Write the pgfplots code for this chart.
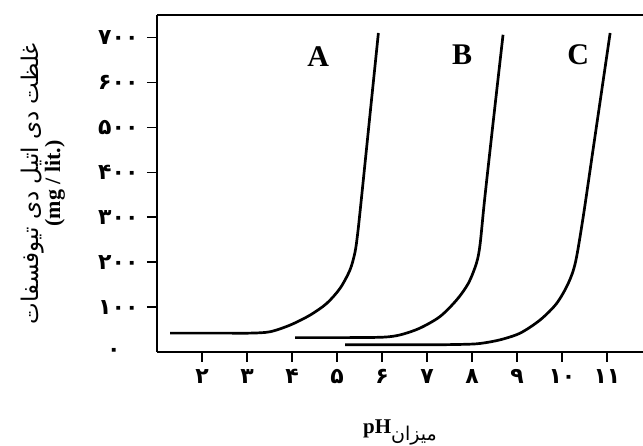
\documentclass[border=0pt]{standalone}
\usepackage{fontspec}
\setmainfont{Liberation Serif}
\newfontfamily\arabicfont[Script=Arabic]{DejaVu Sans}
\TeXXeTstate=1
\usepackage{pgfplots}
\pgfplotsset{compat=1.18}

\begin{document}
\begin{tikzpicture}
\path[use as bounding box] (-157pt,-94pt) rectangle (486pt,352pt);
\begin{axis}[
    scale only axis,
    width=486pt, height=337pt,
    xmin=1, xmax=11.8,
    ymin=0, ymax=750,
    axis x line*=box,
    axis y line*=left,
    axis line style={line width=1.6pt},
    tick align=outside,
    xtick pos=bottom, ytick pos=left,
    major tick length=10pt,
    every tick/.style={black, line width=1.4pt},
    xtick={2,3,...,11},
    xticklabels={۲,۳,۴,۵,۶,۷,۸,۹,۱۰,۱۱},
    ytick={100,200,...,700},
    yticklabels={۱۰۰,۲۰۰,۳۰۰,۴۰۰,۵۰۰,۶۰۰,۷۰۰},
    ticklabel style={font=\arabicfont\bfseries\fontsize{22}{24}\selectfont},
    xticklabel style={yshift=-4pt},
    yticklabel style={xshift=-5pt},
    extra y ticks={0},
    extra y tick labels={۰},
    extra y tick style={major tick length=0pt, yticklabel style={xshift=-28pt}},
    xlabel={\fontsize{21}{24}\selectfont\textbf{pH}\raisebox{-7pt}{\arabicfont\fontsize{19}{20}\selectfont\beginR میزان\endR}},
    xlabel style={at={(rel axis cs:0.5,0)}, anchor=center, yshift=-80pt},
    every axis y label/.style={at={(rel axis cs:0,0.5)}, rotate=90, anchor=center, yshift=114pt, align=center},
    ylabel={\arabicfont\fontsize{23}{31}\selectfont\beginR غلظت دی اتیل دی تیوفسفات\endR\\\fontsize{22}{31}\selectfont\bfseries (mg / lit.)},
]
% A
\addplot[black, line width=2.7pt, smooth] coordinates {
    (1.29,42) (2.5,42) (3.07,42) (3.51,45) (3.96,60) (4.40,82) (4.77,108)
    (5.07,142) (5.29,183) (5.40,222) (5.46,264) (5.54,339) (5.73,525) (5.92,710)
};
% B
\addplot[black, line width=2.7pt, smooth] coordinates {
    (4.07,32) (5.2,32) (6.02,33) (6.40,38) (6.84,53) (7.29,79) (7.66,116)
    (7.92,153) (8.10,198) (8.18,240) (8.28,339) (8.48,520) (8.69,706)
};
% C
\addplot[black, line width=2.7pt, smooth] coordinates {
    (5.18,16) (7.0,16) (7.8,17) (8.18,19) (8.62,27) (9.07,42) (9.51,71)
    (9.88,108) (10.14,153) (10.30,200) (10.47,300) (10.70,457) (11.07,710)
};
\node[font=\fontsize{30}{32}\selectfont\bfseries] at (axis cs:4.58,657) {A};
\node[font=\fontsize{30}{32}\selectfont\bfseries] at (axis cs:7.78,661) {B};
\node[font=\fontsize{30}{32}\selectfont\bfseries] at (axis cs:10.36,661) {C};
\end{axis}
\end{tikzpicture}
\end{document}
